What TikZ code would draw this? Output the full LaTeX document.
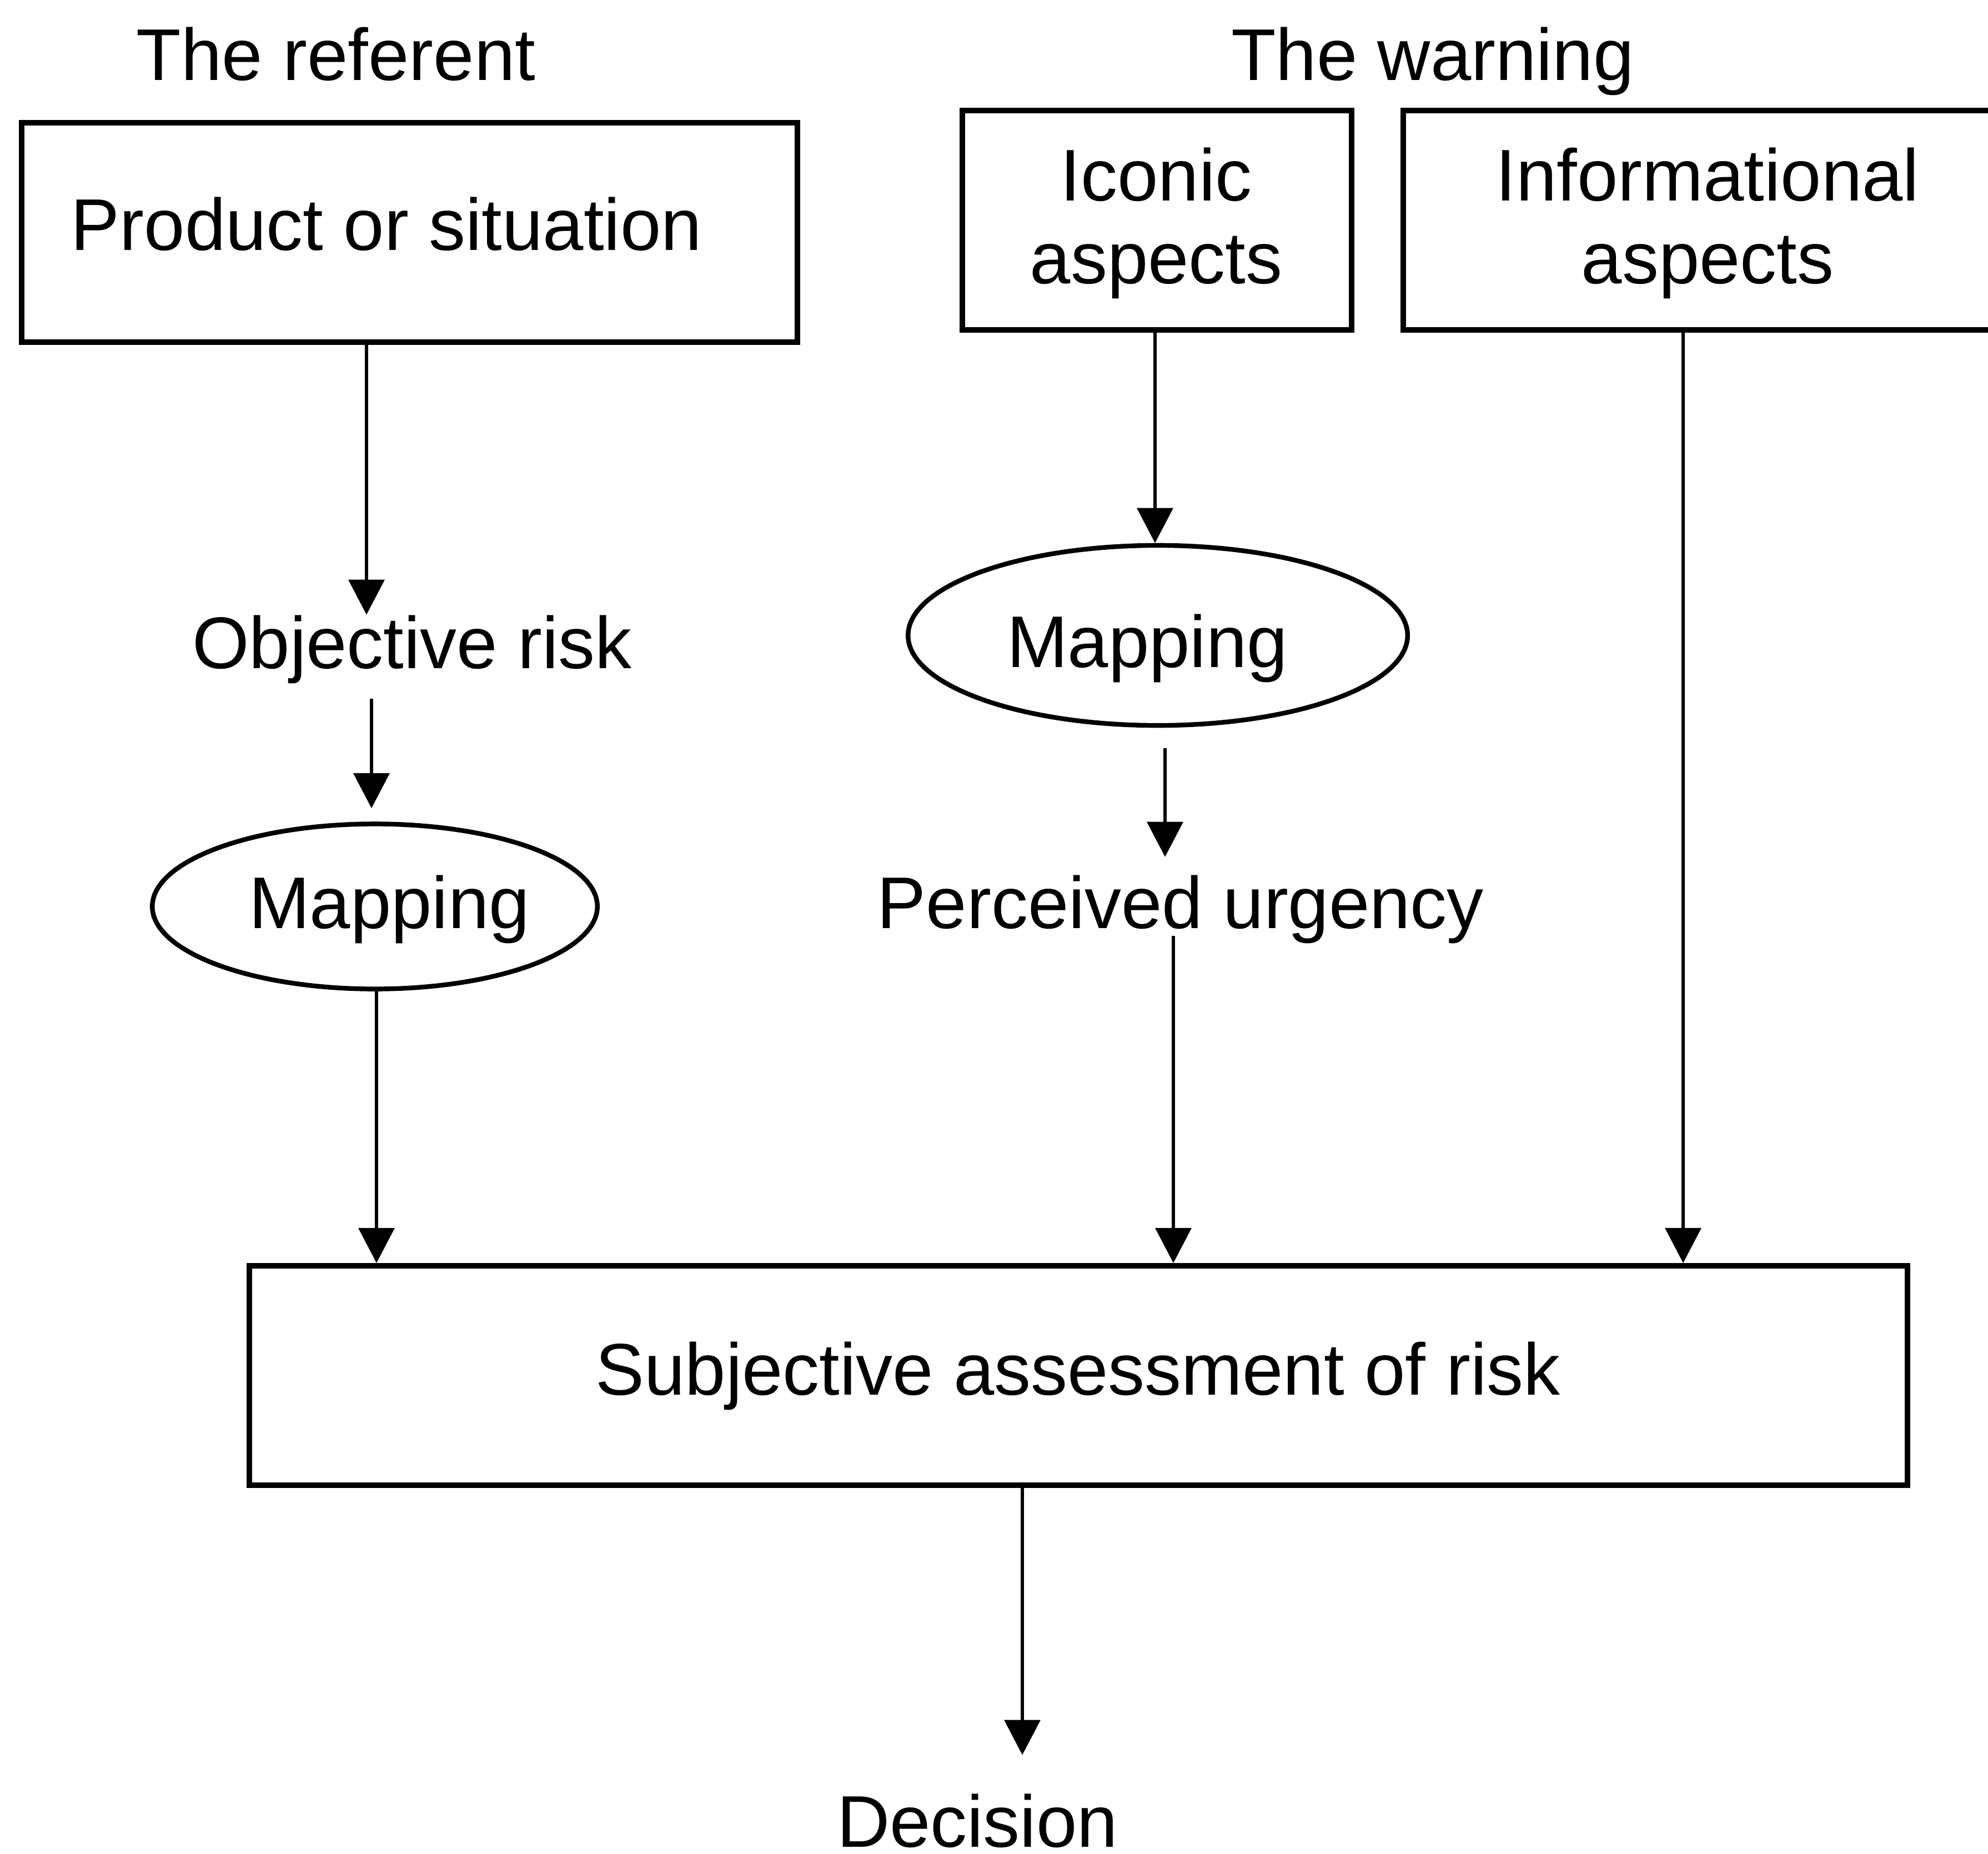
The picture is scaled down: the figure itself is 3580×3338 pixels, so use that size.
\documentclass[tikz,border=0pt]{standalone}
\usepackage{fontspec}
\setmainfont{Liberation Sans}
\usetikzlibrary{arrows.meta,shapes.geometric}
\begin{document}
\begin{tikzpicture}[x=0.01cm,y=-0.01cm,
  box/.style={draw,line width=2.8pt,rectangle,inner sep=0pt},
  oval/.style={draw,line width=2.4pt,ellipse,inner sep=0pt},
  lbl/.style={inner sep=0pt,anchor=base,align=center,
              font=\fontsize{37.5}{42.1}\selectfont},
  arr/.style={line width=1.9pt,-{Triangle[length=0.63cm,width=0.64cm]}}]

\useasboundingbox (0,0) rectangle (3580,3338);

% headings
\node[lbl] (hreferent) at (605,144) {The referent};
\node[lbl] (hwarning) at (2580,144) {The warning};

% top row of boxes (two-line labels sit on the baseline of their last line)
\node[box,minimum width=13.97cm,minimum height=3.95cm] (prod) at (737.5,418.5) {};
\node[lbl] (prodtext) at (696,450) {Product or situation};
\node[box,minimum width=7.01cm,minimum height=3.95cm] (icon) at (2083.5,396.5) {};
\node[lbl] (icontext) at (2082,510) {Iconic\\aspects};
\node[box,minimum width=10.92cm,minimum height=3.95cm] (info) at (3073,396.5) {};
\node[lbl] (infotext) at (3075,510) {Informational\\aspects};

% left column
\node[lbl] (objrisk) at (742,1203) {Objective risk};
\node[oval,minimum width=8.01cm,minimum height=2.97cm] (mapA) at (675,1632) {};
\node[lbl] (mapAtext) at (701,1671) {Mapping};

% middle column
\node[oval,minimum width=8.99cm,minimum height=3.24cm] (mapB) at (2085,1144) {};
\node[lbl] (mapBtext) at (2066,1201) {Mapping};
\node[lbl] (purg) at (2126,1671) {Perceived urgency};

% assessment and outcome
\node[box,minimum width=29.84cm,minimum height=3.95cm] (subj) at (1942,2476.5) {};
\node[lbl] (subjtext) at (1941,2511) {Subjective assessment of risk};
\node[lbl] (decision) at (1760,3325) {Decision};

% connector columns
\coordinate (c1) at (660,0);
\coordinate (c2) at (669,0);
\coordinate (c3) at (678,0);
\coordinate (c4) at (2080,0);
\coordinate (c5) at (2098,0);
\coordinate (c6) at (2113,0);
\coordinate (c7) at (3031,0);
\coordinate (c8) at (1841,0);

% connectors
\draw[arr] (prod.south -| c1) -- (objrisk.north -| c1);
\draw[arr,shorten <=0.27cm,shorten >=0.24cm] (objrisk.south -| c2) -- (mapA.north -| c2);
\draw[arr] (mapA.south -| c3) -- (subj.north -| c3);
\draw[arr] (icon.south -| c4) -- (mapB.north -| c4);
\draw[arr,shorten <=0.37cm,shorten >=0.32cm] (mapB.south -| c5) -- (purg.north -| c5);
\draw[arr,shorten <=-0.14cm] (purg.south -| c6) -- (subj.north -| c6);
\draw[arr] (info.south -| c7) -- (subj.north -| c7);
\draw[arr,shorten >=0.69cm] (subj.south -| c8) -- (decision.north -| c8);

\end{tikzpicture}
\end{document}
